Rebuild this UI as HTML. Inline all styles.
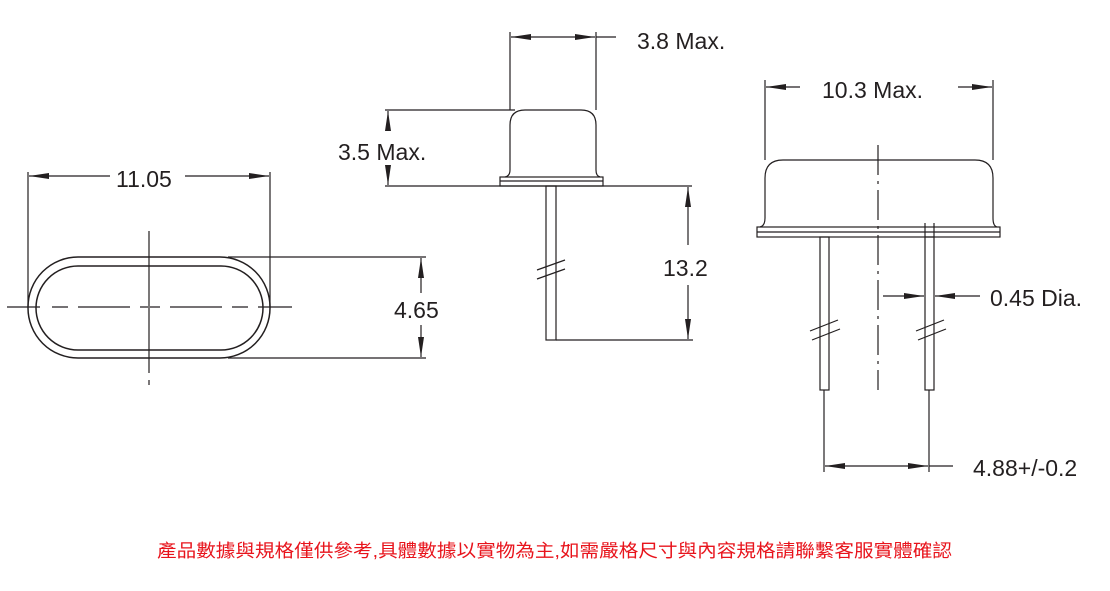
<!DOCTYPE html>
<html><head><meta charset="utf-8"><style>
html,body{margin:0;padding:0;background:#fff;}
svg{display:block;}
text{font-family:"Liberation Sans","DejaVu Sans",sans-serif;fill:#231f20;}
</style></head><body>
<svg width="1110" height="591" viewBox="0 0 1110 591" xmlns="http://www.w3.org/2000/svg">
<defs>
<marker id="a" markerWidth="20" markerHeight="8" refX="20" refY="4" orient="auto" markerUnits="userSpaceOnUse">
<path d="M0,1 L20,4 L0,7 Z" fill="#231f20"/></marker>
</defs>
<g stroke="#231f20" fill="none" stroke-width="1.2">
<!-- left view -->
<rect x="28" y="257" width="242" height="101" rx="50" ry="50" stroke-width="1.5"/>
<rect x="36" y="266" width="227" height="84" rx="42" ry="42" stroke-width="1.5"/>
<path d="M7,307 H40 M52,307 H68 M78,307 H130 M140,307 H148 M150,307 H160 M170,307 H222 M232,307 H248 M258,307 H292"/>
<line x1="149" y1="231" x2="149" y2="373"/>
<line x1="149" y1="380" x2="149" y2="385"/>
<line x1="28" y1="172" x2="28" y2="307"/>
<line x1="270" y1="172" x2="270" y2="307"/>
<line x1="110" y1="176" x2="29" y2="176" marker-end="url(#a)"/>
<line x1="185" y1="176" x2="269" y2="176" marker-end="url(#a)"/>
<line x1="228" y1="257" x2="426" y2="257"/>
<line x1="228" y1="358" x2="426" y2="358"/>
<line x1="421" y1="293" x2="421" y2="258" marker-end="url(#a)"/>
<line x1="421" y1="325" x2="421" y2="357" marker-end="url(#a)"/>
<!-- middle view -->
<path d="M505,177 Q510,176 510,170 V125 Q510,110 525,110 H581 Q596,110 596,125 V170 Q596,176 600,177"/>
<rect x="500" y="177" width="103" height="9"/>
<line x1="500" y1="181" x2="603" y2="181"/>
<rect x="546" y="186" width="10" height="154"/>
<line x1="537" y1="270" x2="565" y2="260"/>
<line x1="537" y1="279" x2="565" y2="269"/>
<line x1="556" y1="340" x2="693" y2="340"/>
<line x1="385" y1="110" x2="515" y2="110"/>
<line x1="385" y1="186" x2="692" y2="186"/>
<line x1="388" y1="130" x2="388" y2="111" marker-end="url(#a)"/>
<line x1="388" y1="166" x2="388" y2="185" marker-end="url(#a)"/>
<line x1="510" y1="32" x2="510" y2="110"/>
<line x1="596" y1="32" x2="596" y2="110"/>
<line x1="553" y1="37" x2="511" y2="37" marker-end="url(#a)"/>
<line x1="553" y1="37" x2="595" y2="37" marker-end="url(#a)"/>
<line x1="596" y1="37" x2="616" y2="37"/>
<line x1="688" y1="245" x2="688" y2="187" marker-end="url(#a)"/>
<line x1="688" y1="285" x2="688" y2="339" marker-end="url(#a)"/>
<!-- right view -->
<path d="M760,227 Q765,226 765,218 V178 Q765,160 783,160 H975 Q993,160 993,178 V218 Q993,226 997,227"/>
<rect x="757" y="227" width="243" height="10"/>
<line x1="757" y1="232" x2="1000" y2="232"/>
<rect x="820" y="237" width="9" height="153"/>
<rect x="925" y="237" width="9" height="153"/>
<line x1="925" y1="223" x2="925" y2="237"/>
<line x1="934" y1="223" x2="934" y2="237"/>
<line x1="810" y1="331" x2="838" y2="320"/>
<line x1="812" y1="340" x2="840" y2="329"/>
<line x1="916" y1="331" x2="944" y2="320"/>
<line x1="918" y1="340" x2="946" y2="329"/>
<line x1="878" y1="145" x2="878" y2="390" stroke-dasharray="30,6,3,6"/>
<line x1="765" y1="80" x2="765" y2="160"/>
<line x1="993" y1="80" x2="993" y2="160"/>
<line x1="800" y1="87" x2="766" y2="87" marker-end="url(#a)"/>
<line x1="958" y1="87" x2="992" y2="87" marker-end="url(#a)"/>
<line x1="883" y1="296" x2="924" y2="296" marker-end="url(#a)"/>
<line x1="980" y1="296" x2="935" y2="296" marker-end="url(#a)"/>
<line x1="824" y1="390" x2="824" y2="472"/>
<line x1="929" y1="390" x2="929" y2="472"/>
<line x1="876" y1="466" x2="825" y2="466" marker-end="url(#a)"/>
<line x1="876" y1="466" x2="928" y2="466" marker-end="url(#a)"/>
<line x1="929" y1="466" x2="953" y2="466"/>
</g>
<g font-size="23">
<text x="116" y="187">11.05</text>
<text x="394" y="318">4.65</text>
<text x="338" y="160">3.5 Max.</text>
<text x="637" y="49">3.8 Max.</text>
<text x="663" y="276">13.2</text>
<text x="822" y="98">10.3 Max.</text>
<text x="990" y="306">0.45 Dia.</text>
<text x="973" y="476">4.88+/-0.2</text>
</g>
<text x="157" y="557" font-size="18" textLength="795" lengthAdjust="spacingAndGlyphs" style="fill:#e8141c;font-family:'Liberation Sans','Noto Sans CJK TC',sans-serif">產品數據與規格僅供參考,具體數據以實物為主,如需嚴格尺寸與內容規格請聯繫客服實體確認</text>
</svg>
</body></html>
